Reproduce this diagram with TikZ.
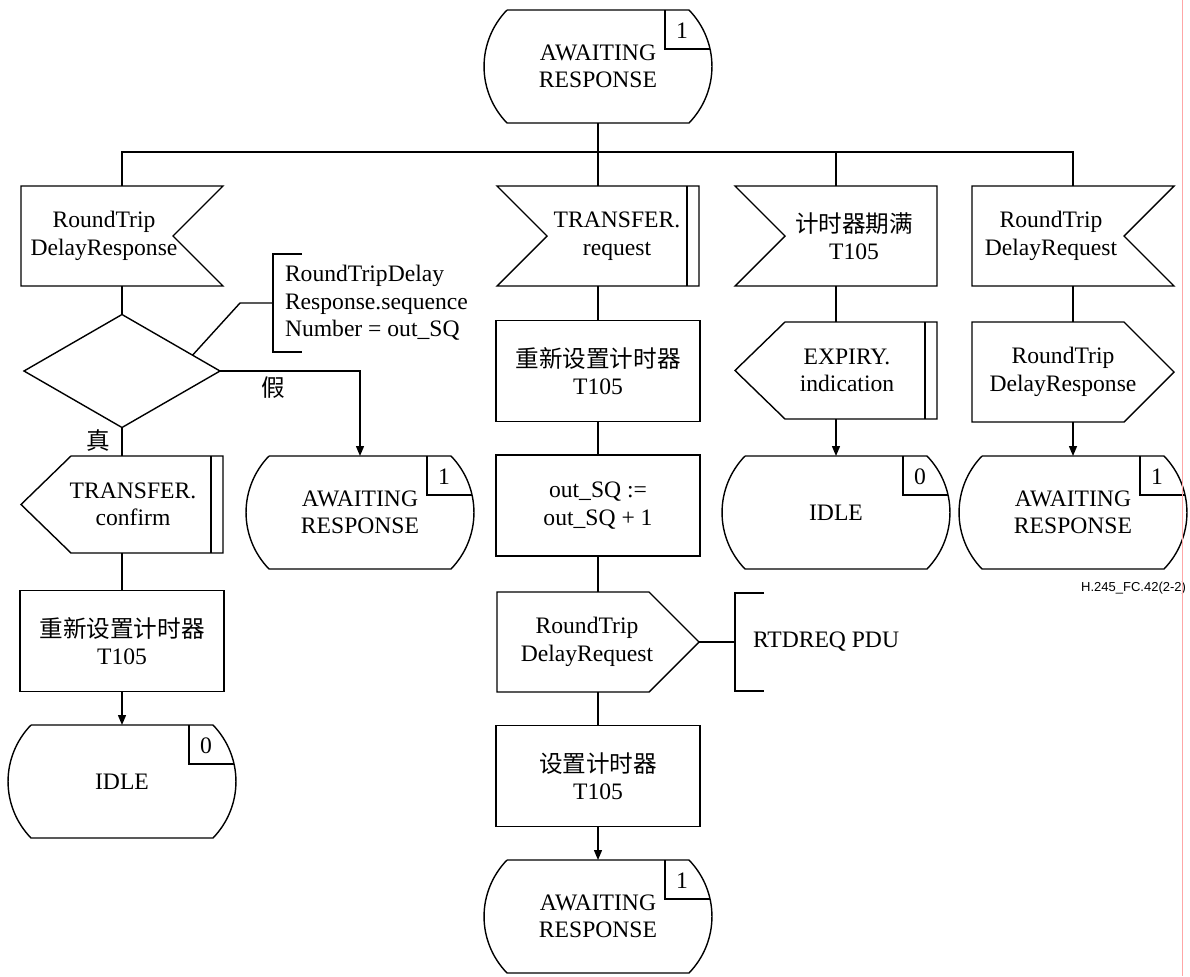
\documentclass[tikz,border=0pt]{standalone}
\usepackage{fontspec}
\setmainfont{Liberation Serif}
\newfontfamily\cjk{Noto Sans CJK SC}
\newfontfamily\figfont{Liberation Sans}
\usetikzlibrary{calc,arrows.meta}

\tikzset{
  every node/.style={inner sep=0pt, outer sep=0pt, align=center,
    font=\fontsize{11.8}{13.75}\selectfont},
  sigbox/.style={minimum width=101pt, minimum height=50pt},
  taskbox/.style={draw, minimum width=102pt, minimum height=50.5pt},
  statebox/.style={minimum width=114pt, minimum height=56.5pt},
  decbox/.style={minimum width=98pt, minimum height=56.5pt},
  notebox/.style={anchor=west, minimum height=49pt, align=left},
  arr/.style={-{Triangle[length=5pt,width=4pt]}},
}

\begin{document}
\begin{tikzpicture}[x=0.5pt, y=-0.5pt, line width=0.7pt]
  \useasboundingbox (0,0) rectangle (1190,976);

  % states
  \node[statebox] (s0) at (598,66.5) {AWAITING\\RESPONSE};
  \node[statebox] (s1) at (360,512.5) {AWAITING\\RESPONSE};
  \node[statebox] (s2) at (122,781.5) {IDLE};
  \node[statebox] (s3) at (598,916.5) {AWAITING\\RESPONSE};
  \node[statebox] (s4) at (836,512.5) {IDLE};
  \node[statebox] (s5) at (1073,512.5) {AWAITING\\RESPONSE};

  % column 1
  \node[sigbox] (in1) at (122,236) {};
  \node (in1t) at ([xshift=-9pt]in1) {RoundTrip\\DelayResponse};
  \node[decbox] (dec) at (122,371) {};
  \node[sigbox, minimum height=48.5pt] (out1) at (122,504.5) {};
  \node (out1t) at ([xshift=5.5pt]out1) {TRANSFER.\\confirm};
  \node[taskbox] (t1) at (122,641) {{\cjk 重新设置计时器}\\T105};
  \node (no) at (273,388) {\cjk 假};
  \node (yes) at (98,440) {\cjk 真};
  \node[notebox, inner xsep=6pt] (c1) at (273,303)
    {RoundTripDelay\\Response.sequence\\Number = out\_SQ};

  % column 2
  \node[sigbox] (in2) at (598,236) {};
  \node (in2t) at ([xshift=9.5pt]in2) {TRANSFER.\\request};
  \node[taskbox] (t2) at (598,371) {{\cjk 重新设置计时器}\\T105};
  \node[taskbox] (t3) at (598,505.5) {out\_SQ :=\\out\_SQ + 1};
  \node[sigbox] (out2) at (598,642) {};
  \node (out2t) at ([xshift=-5.5pt]out2) {RoundTrip\\DelayRequest};
  \node[taskbox] (t4) at (598,776) {{\cjk 设置计时器}\\T105};
  \node[notebox, inner xsep=9pt] (c2) at (735,642) {RTDREQ PDU};

  % column 3
  \node[sigbox] (in3) at (836,236) {};
  \node (in3t) at ([xshift=9pt]in3) {{\cjk 计时器期满}\\T105};
  \node[sigbox, minimum height=48.5pt] (out3) at (836,370.5) {};
  \node (out3t) at ([xshift=5.5pt]out3) {EXPIRY.\\indication};

  % column 4
  \node[sigbox] (in4) at (1073,236) {};
  \node (in4t) at ([xshift=-11pt]in4) {RoundTrip\\DelayRequest};
  \node[sigbox] (out4) at (1073,372) {};
  \node (out4t) at ([xshift=-5pt]out4) {RoundTrip\\DelayResponse};

  \node[anchor=east, font=\figfont\fontsize{6.5}{8}\selectfont] (fig)
    at (1186,588) {H.245\_FC.42(2-2)};

  % outlines
  \foreach \n/\nr in {s0/1,s1/1,s2/0,s3/1,s4/0,s5/1} {
    \draw ([xshift=11.5pt]\n.north west) -- ([xshift=-11.5pt]\n.north east)
      to[bend left=44] ([xshift=-11.5pt]\n.south east)
      -- ([xshift=11.5pt]\n.south west)
      to[bend left=44] ([xshift=11.5pt]\n.north west);
    \draw ([xshift=-23.5pt]\n.north east) -- ++(0,39) -- ++(44.5,0);
    \node (nr\n) at ([xshift=-15pt,yshift=-10.5pt]\n.north east) {\nr};
  }
  \foreach \n in {in1,in4}
    \draw (\n.north west) -- (\n.north east) -- ([xshift=-25pt]\n.east)
      -- (\n.south east) -- (\n.south west) -- cycle;
  \foreach \n in {in2,in3}
    \draw (\n.north west) -- (\n.north east) -- (\n.south east)
      -- (\n.south west) -- ([xshift=25pt]\n.west) -- cycle;
  \foreach \n in {out1,out3}
    \draw (\n.west) -- ([xshift=25pt]\n.north west) -- (\n.north east)
      -- (\n.south east) -- ([xshift=25pt]\n.south west) -- cycle;
  \foreach \n in {out2,out4}
    \draw (\n.north west) -- ([xshift=-25pt]\n.north east) -- (\n.east)
      -- ([xshift=-25pt]\n.south east) -- (\n.south west) -- cycle;
  \foreach \n in {in2,out1,out3}
    \draw ([xshift=-6pt]\n.north east) -- ([xshift=-6pt]\n.south east);
  \draw (dec.north) -- (dec.east) -- (dec.south) -- (dec.west) -- cycle;

  % comment brackets
  \foreach \n in {c1,c2}
    \draw ([xshift=14.5pt]\n.north west) -- (\n.north west)
      -- (\n.south west) -- ([xshift=14.5pt]\n.south west);
  \draw ($(dec.north)!0.72!(dec.east)$) -- ([xshift=-16.5pt]c1.west) -- (c1.west);
  \draw (out2.east) -- (c2.west);

  % flow lines
  \coordinate (bus) at (598,152);
  \draw (s0.south) -- (bus);
  \draw (in1.north) |- (bus) -| (in4.north);
  \draw (in2.north) -- (in2.north |- bus);
  \draw (in3.north) -- (in3.north |- bus);

  \draw (in1.south) -- (dec.north);
  \draw (dec.south) -- (out1.north);
  \draw (out1.south) -- (t1.north);
  \draw[arr] (t1.south) -- (s2.north);
  \draw[arr] (dec.east) -| (s1.north);

  \draw (in2.south) -- (t2.north);
  \draw (t2.south) -- (t3.north);
  \draw (t3.south) -- (out2.north);
  \draw (out2.south) -- (t4.north);
  \draw[arr] (t4.south) -- (s3.north);

  \draw (in3.south) -- (out3.north);
  \draw[arr] (out3.south) -- (s4.north);
  \draw (in4.south) -- (out4.north);
  \draw[arr] (out4.south) -- (s5.north);

  \draw[red!35, line width=0.4pt] (1182,0) -- (1182,976);
\end{tikzpicture}
\end{document}
